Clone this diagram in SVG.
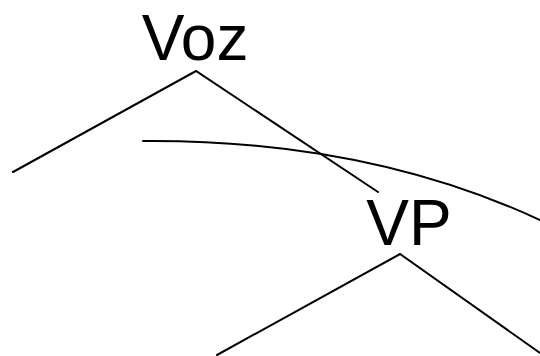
<svg xmlns="http://www.w3.org/2000/svg" width="540" height="356" viewBox="0 0 540 356">
<style>
.lbl{font-family:"Liberation Sans",Arial,sans-serif;font-size:64px;fill:#000;text-anchor:middle}
.edge{stroke:#000;stroke-width:2;fill:none;stroke-linecap:round;stroke-linejoin:miter}
</style>
<rect width="540" height="356" fill="#fff"/>
<g id="connectors">
<polyline class="edge" points="13,172 196,71 378,192"/>
<polyline class="edge" points="217,355 400,254 540,353"/>
<path class="edge" stroke-width="1.7" d="M143,141 C260,140 400,155 540,220"/>
</g>
<g id="node-voz"><text class="lbl" x="195" y="60">Voz</text></g>
<g id="node-vp"><text class="lbl" x="409" y="245">VP</text></g>
</svg>
